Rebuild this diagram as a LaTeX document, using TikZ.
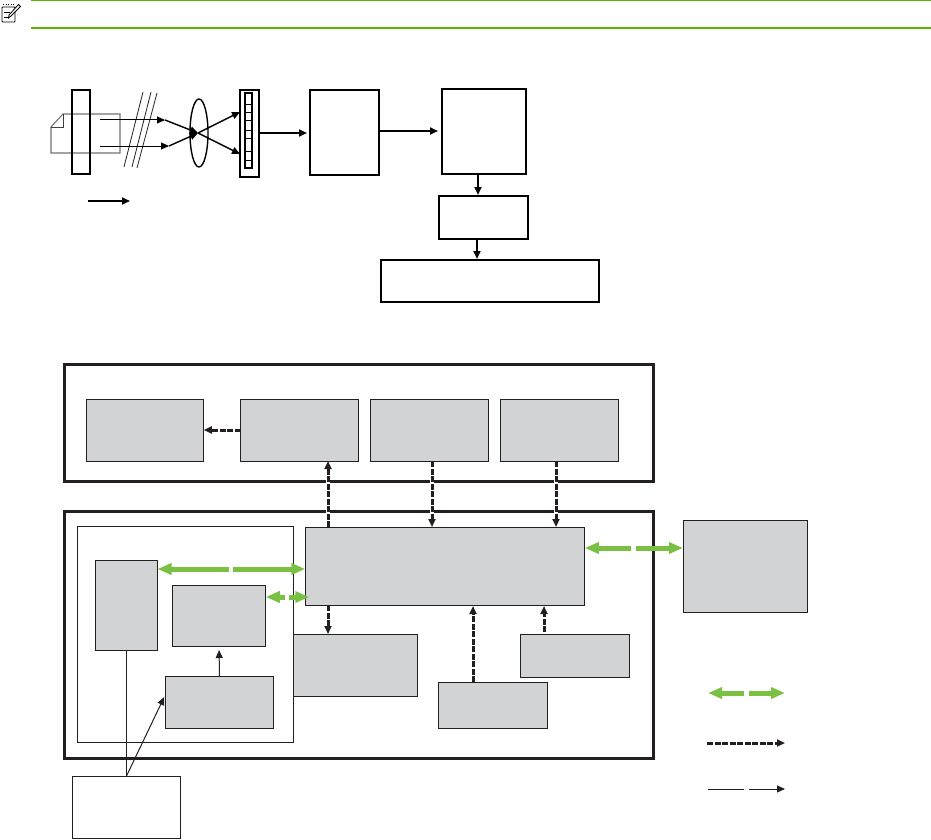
\documentclass[tikz,border=0pt]{standalone}
\usepackage{xcolor}
\usetikzlibrary{arrows.meta,shapes.geometric}
\definecolor{boxgray}{RGB}{209,211,212}
\definecolor{inkblack}{RGB}{35,31,32}
\definecolor{flowgreen}{RGB}{122,193,67}
\definecolor{notegreen}{RGB}{92,178,0}
\begin{document}
\begin{tikzpicture}[
    x=1pt, y=-1pt,
    >={Triangle[length=8pt,width=7pt]},
    optic/.style={draw=black,line width=1.8pt,inner sep=0pt,outer sep=0pt},
    frameA/.style={draw=inkblack,line width=3pt,inner sep=0pt,outer sep=0pt},
    plain/.style={draw=inkblack,line width=1pt,inner sep=0pt,outer sep=0pt},
    unit/.style={plain,fill=boxgray},
    ray/.style={->,line width=1pt,black},
    feed/.style={->,line width=2.4pt,black},
    bus/.style={line width=5pt,flowgreen,-{Triangle[length=14pt,width=11pt]}},
    ctrlhalo/.style={white,line width=4pt},
    ctrl/.style={->,line width=3pt,inkblack,dash pattern=on 6pt off 1.5pt},
    hair/.style={line width=0.8pt,inkblack}
]
\useasboundingbox (0,0) rectangle (931,840);

% Note bar
\draw[notegreen,line width=1.5pt] (31,0.5) -- (931,0.5);
\draw[notegreen,line width=1.5pt] (31,28) -- (931,28);
\draw[line width=0.9pt,rounded corners=0.8pt] (2,7) rectangle (15,22);
\draw[line width=1pt,dash pattern=on 1.2pt off 1.4pt] (3,4.5) -- (14,4.5);
\draw[line width=0.7pt] (4,12) -- (10,12) (4,17) -- (8,17);
\draw[line width=0.8pt,fill=white] (18.5,4.5) -- (20.5,6.5) -- (11,16) -- (8.5,18) -- (9,15) -- cycle;

% Optics
\draw[black!55,line width=1.1pt] (51,127) -- (63,114) -- (120,114) -- (120,153) -- (51,153) -- cycle;
\draw[black!75,line width=0.8pt] (63,114) -- (63,127) -- (51,127);
\node[optic,minimum width=18pt,minimum height=84pt] (glass) at (81,132) {};
\draw[hair] (124,167) -- (143,92);
\draw[hair] (132,167) -- (151,92);
\draw[hair] (137,168) -- (157,93);
\node[optic,ellipse,line width=1.4pt,minimum width=18pt,minimum height=68pt] (lens) at (199,133) {};
\node[optic,line width=1.1pt,minimum width=19pt,minimum height=87pt] (sensor) at (249.5,133.5) {};
\node[optic,minimum width=7pt,minimum height=75pt] (cells) at (248.5,130.5) {};
\foreach \yy in {104,112,120,130,138,151,160}
  \draw[line width=0.7pt] (cells.west |- 0,\yy) -- (cells.east |- 0,\yy);

\coordinate (rayA) at (100,120);
\coordinate (rayB) at (100,146);
\coordinate (bendA) at (165,120);
\coordinate (bendB) at (169,146);
\coordinate (focus) at (198,133);
\coordinate (hitA) at (240,154);
\coordinate (hitB) at (240,112);
\draw[ray] (rayA) -- (bendA);
\draw[ray] (rayB) -- (bendB);
\draw[ray,line width=1.4pt] (bendA) -- (focus);
\draw[ray,line width=1.4pt] (bendB) -- (focus);
\draw[ray,line width=1.4pt] (focus) -- (hitA);
\draw[ray,line width=1.4pt] (focus) -- (hitB);
\coordinate (moveA) at (88,201);
\coordinate (moveB) at (130,201);
\draw[feed,line width=1.8pt] (moveA) -- (moveB);

% Image chain
\node[optic,minimum width=69pt,minimum height=85pt] (adc) at (344.5,132.5) {};
\node[optic,minimum width=84pt,minimum height=85pt] (proc) at (484,131.5) {};
\node[optic,minimum width=89pt,minimum height=43pt] (mem) at (483.5,217.5) {};
\node[optic,minimum width=218pt,minimum height=42pt] (out) at (490,281) {};
\coordinate (feedA) at (280,133);
\coordinate (feedB) at (410,131);
\draw[feed] (sensor.east |- feedA) -- ([xshift=-3pt]adc.west |- feedA);
\draw[feed] (adc.east |- feedB) -- ([xshift=-4pt]proc.west |- feedB);
\draw[feed,shorten >=1pt] ([xshift=-6pt]proc.south) -- ([xshift=-6pt]proc.south |- mem.north);
\draw[feed,shorten >=1pt] ([xshift=-6.5pt]mem.south) -- ([xshift=-6.5pt]mem.south |- out.north);

% Scanner section
\node[frameA,minimum width=589pt,minimum height=117pt] (upper) at (358.5,422.5) {};
\node[unit,minimum width=117.5pt,minimum height=62pt] (lamp) at (145,430) {};
\node[unit,minimum width=118pt,minimum height=62pt] (ctrlA) at (299.5,430) {};
\node[unit,minimum width=118pt,minimum height=62pt] (ctrlB) at (429.5,430) {};
\node[unit,minimum width=118pt,minimum height=62pt] (ctrlC) at (559.5,430) {};
\draw[ctrl] (ctrlA.west) -- (lamp.east);

% Formatter section
\node[frameA,minimum width=589pt,minimum height=247pt] (lower) at (358.5,634.5) {};
\node[plain,fill=white,minimum width=216pt,minimum height=216pt] (board) at (185,634) {};
\node[unit,minimum width=279.5pt,minimum height=78pt] (main) at (445,566) {};
\node[unit,minimum width=62pt,minimum height=90pt] (tall) at (126.5,605) {};
\node[unit,minimum width=93.5pt,minimum height=61pt] (midbox) at (219,615.5) {};
\node[unit,minimum width=108.5pt,minimum height=52pt] (lowbox) at (219.5,702) {};
\node[unit,minimum width=124pt,minimum height=62pt] (drive) at (355,665) {};
\node[unit,minimum width=109pt,minimum height=46pt] (panel) at (493,705) {};
\node[unit,minimum width=109pt,minimum height=43pt] (sense) at (575,655.5) {};
\node[unit,minimum width=124pt,minimum height=92pt] (host) at (745,566) {};
\node[plain,fill=white,minimum width=108pt,minimum height=62pt] (supply) at (126.5,807) {};

% Control lines
\coordinate (tapA) at (328,490);
\coordinate (tapB) at (432,490);
\coordinate (tapC) at (556,490);
\coordinate (tapD) at (473,650);
\coordinate (tapE) at (544,620);
\foreach \tap in {tapA,tapB,tapC}
  \draw[ctrlhalo] (upper.south -| \tap) ++(0,-3) -- ++(0,6) (lower.north -| \tap) ++(0,-3) -- ++(0,6);
\draw[ctrl] (main.north -| tapA) -- (ctrlA.south -| tapA);
\draw[ctrl] (ctrlB.south -| tapB) -- (main.north -| tapB);
\draw[ctrl] (ctrlC.south -| tapC) -- (main.north -| tapC);
\draw[ctrl] (main.south -| tapA) -- (drive.north -| tapA);
\draw[ctrl,shorten >=1pt] (panel.north -| tapD) -- (main.south -| tapD);
\draw[ctrl,shorten >=1pt,shorten <=2pt] (sense.north -| tapE) -- (main.south -| tapE);

% Data buses
\coordinate (busAl) at (229,569);
\coordinate (busAr) at (233,569);
\coordinate (busBl) at (285,597);
\coordinate (busBr) at (289,597);
\coordinate (busCl) at (631,548);
\coordinate (busCr) at (636,548);
\draw[bus] (busAl) -- (tall.east |- busAl);
\draw[bus] (busAr) -- (main.west |- busAr);
\draw[bus] (busBl) -- (midbox.east |- busBl);
\draw[bus] (busBr) -- ([xshift=4pt]main.west |- busBr);
\draw[bus] (busCl) -- (main.east |- busCl);
\draw[bus] (busCr) -- (host.west |- busCr);

% Power lines
\draw[hair,line width=1pt] (tall.south) -- (supply.north);
\draw[hair,line width=1pt,->] (supply.north) -- ([xshift=-1pt,yshift=5pt]lowbox.west);
\draw[hair,line width=1pt,->,shorten >=4pt] (lowbox.north) -- (midbox.south);

% Legend
\coordinate (keyAa) at (708,693);
\coordinate (keyAb) at (744,693);
\coordinate (keyAc) at (749,693);
\coordinate (keyAd) at (785,693);
\coordinate (keyBa) at (707,743);
\coordinate (keyBb) at (785,743);
\coordinate (keyCa) at (708,789);
\coordinate (keyCb) at (744,789);
\coordinate (keyCc) at (749,789);
\coordinate (keyCd) at (785,789);
\draw[bus] (keyAb) -- (keyAa);
\draw[bus] (keyAc) -- (keyAd);
\draw[ctrl] (keyBa) -- (keyBb);
\draw[hair] (keyCa) -- (keyCb);
\draw[hair,->] (keyCc) -- (keyCd);
\end{tikzpicture}
\end{document}
